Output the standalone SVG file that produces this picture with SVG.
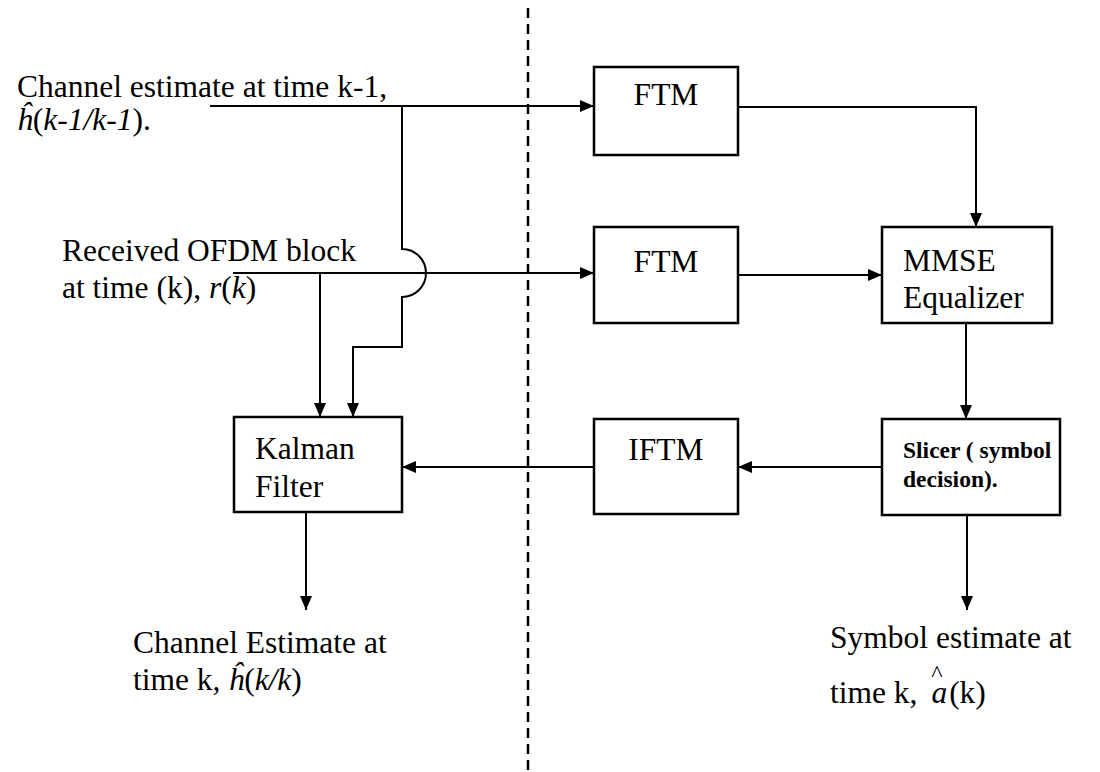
<svg xmlns="http://www.w3.org/2000/svg" width="1100" height="772" viewBox="0 0 1100 772">
<style>
.box{fill:#fff;stroke:#000;stroke-width:2.5}
.ln{fill:none;stroke:#000;stroke-width:2}
.t{font-family:"Liberation Serif","Times New Roman",serif;font-size:31.5px;fill:#000}
.b{font-family:"Liberation Serif","Times New Roman",serif;font-size:23.5px;font-weight:bold;fill:#000}
.i{font-style:italic}
</style>
<defs>
<marker id="ah" markerWidth="14" markerHeight="12" refX="14" refY="6" orient="auto" markerUnits="userSpaceOnUse">
<path d="M0,0 L14,6 L0,12 Z" fill="#000"/>
</marker>
</defs>
<rect width="1100" height="772" fill="#fff"/>
<line x1="528" y1="8" x2="528" y2="772" stroke="#000" stroke-width="2.5" stroke-dasharray="10,6"/>
<g id="connectors">
<path class="ln" d="M210,106 H594" marker-end="url(#ah)"/>
<path class="ln" d="M738,107 H976 V227" marker-end="url(#ah)"/>
<path class="ln" d="M233,273 H594" marker-end="url(#ah)"/>
<path class="ln" d="M738,275 H882" marker-end="url(#ah)"/>
<path class="ln" d="M402,106 V249 A24,24 0 0 1 402,297 V347 H353 V417" marker-end="url(#ah)"/>
<path class="ln" d="M320,273 V417" marker-end="url(#ah)"/>
<path class="ln" d="M966,323 V419" marker-end="url(#ah)"/>
<path class="ln" d="M882,467 H738" marker-end="url(#ah)"/>
<path class="ln" d="M594,467 H402" marker-end="url(#ah)"/>
<path class="ln" d="M306,512 V610" marker-end="url(#ah)"/>
<path class="ln" d="M967,515 V610" marker-end="url(#ah)"/>
</g>
<g id="ftm1"><rect class="box" x="594" y="67" width="144" height="88"/><text class="t" x="666" y="105" text-anchor="middle">FTM</text></g>
<g id="ftm2"><rect class="box" x="594" y="227" width="144" height="96"/><text class="t" x="666" y="272" text-anchor="middle">FTM</text></g>
<g id="mmse"><rect class="box" x="882" y="227" width="170" height="96"/><text class="t" x="903" y="271">MMSE</text><text class="t" x="903" y="308">Equalizer</text></g>
<g id="slicer"><rect class="box" x="882" y="419" width="178" height="96"/><text class="b" x="903" y="458">Slicer ( symbol</text><text class="b" x="903" y="487">decision).</text></g>
<g id="iftm"><rect class="box" x="594" y="419" width="144" height="95"/><text class="t" x="666" y="460" text-anchor="middle">IFTM</text></g>
<g id="kalman"><rect class="box" x="234" y="417" width="168" height="95"/><text class="t" x="255" y="459">Kalman</text><text class="t" x="255" y="497">Filter</text></g>
<g id="label-channel-in"><text class="t" x="17" y="97">Channel estimate at time k-1,</text><text class="t" x="17" y="130"><tspan class="i">ĥ</tspan>(<tspan class="i">k-1/k-1</tspan>).</text></g>
<g id="label-ofdm"><text class="t" x="62" y="261">Received OFDM block</text><text class="t" x="62" y="298">at time (k), <tspan class="i">r</tspan>(<tspan class="i">k</tspan>)</text></g>
<g id="label-channel-out"><text class="t" x="133" y="653">Channel Estimate at</text><text class="t" x="133" y="690">time k, <tspan class="i">ĥ</tspan>(<tspan class="i">k/k</tspan>)</text></g>
<g id="label-symbol-out"><text class="t" x="830" y="648">Symbol estimate at</text><text class="t" x="830" y="703">time k, <tspan class="i" dx="6">a</tspan><tspan dx="2">(k)</tspan></text><text class="t" x="937" y="681" text-anchor="middle" style="font-size:24px">^</text></g>
</svg>
